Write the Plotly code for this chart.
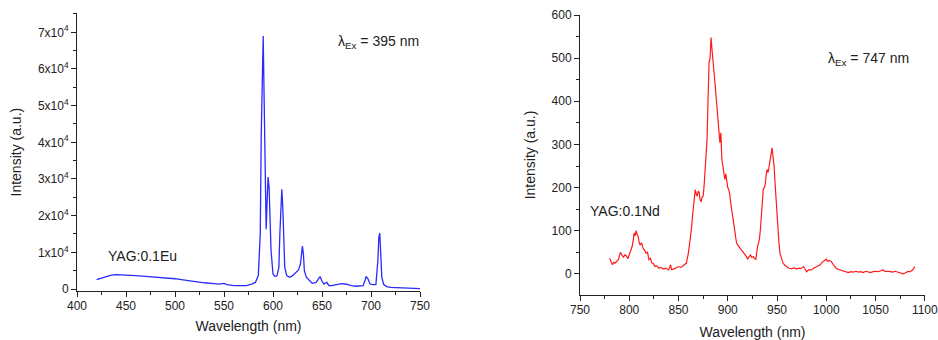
import plotly.graph_objects as go

# ---- Left spectrum: YAG:0.1Eu, excitation 395 nm ----
eu_wavelength = [420, 425, 430, 435, 440, 450, 455, 460, 470, 480, 490, 500, 510, 520, 530, 540, 545,
                 550, 553, 560, 565, 570, 573, 578, 582, 585, 587, 588, 589, 590, 591, 592, 593, 594,
                 595, 596, 597, 598, 600, 602, 604, 606, 607, 608, 609, 610, 611, 612, 614, 617, 620,
                 623, 626, 628, 629, 630, 631, 632, 634, 637, 640, 644, 646, 648, 650, 652, 654, 655,
                 657, 660, 665, 670, 675, 680, 685, 690, 692, 694, 695, 697, 699, 702, 705, 707, 708,
                 709, 710, 711, 713, 716, 720, 730, 740, 744, 750]
eu_intensity = [2550, 2900, 3400, 3800, 3900, 3800, 3900, 3650, 3450, 3300, 3100, 2800, 2450, 2000, 1700,
                1450, 1350, 1550, 1200, 900, 900, 750, 900, 1350, 1800, 3650, 15000, 42000, 60600, 69000,
                51000, 33300, 16300, 24000, 30500, 27800, 19600, 10500, 4100, 3400, 3600, 5900, 15000,
                24000, 27200, 22300, 12300, 5900, 3650, 3200, 3650, 4550, 5200, 6800, 10500, 11700, 9600,
                5000, 3200, 2450, 1550, 1800, 2450, 3400, 2100, 1350, 1700, 1800, 900, 900, 1200, 1450,
                1300, 900, 750, 800, 900, 2450, 3450, 2700, 1350, 1200, 1200, 7700, 14100, 15200, 9600,
                3200, 1200, 650, 450, 350, 300, 350, 100]

# ---- Right spectrum: YAG:0.1Nd, excitation 747 nm ----
nd_wavelength = [780, 781.5, 783, 784.5, 786, 787.5, 789, 791, 792.5, 794, 795.5, 797, 798.5, 800, 801.5,
                 803, 804, 805, 806, 807, 808, 809, 810, 811, 812.5, 814, 815.5, 817, 818.5, 820, 821.5,
                 823, 824.5, 826, 828, 830, 832, 835, 837, 840, 842, 843, 845, 847.5, 850, 852.5, 855,
                 858, 860, 861.5, 863, 864.5, 866, 867, 868, 869, 870, 871, 872, 873, 874, 875, 876, 877,
                 878, 879, 880, 881, 882, 883, 884, 885, 886, 887, 888, 889, 890, 891, 892, 893, 894, 895,
                 896, 897, 898, 899, 900, 901, 902, 903, 904, 905, 906, 907, 908, 909, 910.5, 912, 913.5,
                 915, 916.5, 918, 919, 920, 921.5, 923, 924.5, 926, 927, 928.5, 930, 931, 932, 933, 934,
                 935, 936, 937, 938, 939, 940, 941, 942, 943, 944, 945, 946, 947, 948, 949, 950, 951, 952,
                 953, 954.5, 956, 958, 960, 962, 965, 967.5, 970, 972, 974, 975.5, 977, 979, 980, 982.5,
                 985, 987, 990, 992, 994, 995.5, 997, 998.5, 1000, 1001, 1002, 1003.5, 1005, 1007.5, 1010,
                 1012.5, 1015, 1017.5, 1020, 1022.5, 1025, 1027.5, 1030, 1032.5, 1035, 1037.5, 1040,
                 1042.5, 1045, 1047.5, 1050, 1052.5, 1055, 1057.5, 1060, 1062.5, 1065, 1067.5, 1070,
                 1072.5, 1075, 1078, 1080, 1082.5, 1085, 1087.5, 1090]
nd_intensity = [36, 26, 21, 27, 25, 30, 33, 50, 44, 38, 44, 42, 35, 44, 54, 64, 78, 95, 88, 100, 92, 87,
                74, 67, 72, 60, 55, 48, 50, 33, 36, 25, 24, 17, 19, 13, 15, 11, 13, 9, 21, 10, 11, 14, 17,
                15, 19, 25, 48, 70, 102, 140, 172, 195, 185, 180, 192, 188, 170, 168, 178, 180, 205, 234,
                270, 312, 405, 490, 498, 548, 520, 498, 470, 443, 415, 389, 360, 327, 304, 327, 265, 250,
                234, 219, 232, 207, 200, 195, 185, 164, 150, 141, 120, 102, 85, 71, 66, 60, 56, 52, 48, 44,
                40, 34, 38, 44, 38, 40, 36, 33, 60, 70, 79, 100, 126, 160, 195, 200, 207, 230, 242, 235,
                250, 257, 275, 292, 270, 250, 210, 172, 130, 95, 70, 48, 35, 25, 20, 17, 13, 12, 14, 11, 13,
                12, 14, 17, 9, 5, 10, 9, 13, 17, 20, 21, 26, 29, 33, 34, 30, 29, 31, 29, 20, 13, 10, 8, 6,
                5, 3, 5, 4, 6, 4, 5, 3, 6, 4, 3, 5, 6, 5, 7, 9, 5, 6, 5, 4, 6, 4, 3, 0, 2, 5, 5, 9, 17]

eu_yticks = [0, 10000, 20000, 30000, 40000, 50000, 60000, 70000]
eu_yticktext = ["0"] + [f"{k}x10<sup>4</sup>" for k in range(1, 8)]
eu_xticks = [400, 450, 500, 550, 600, 650, 700, 750]
nd_xticks = [750, 800, 850, 900, 950, 1000, 1050, 1100]
nd_yticks = [0, 100, 200, 300, 400, 500, 600]

FONT = "Liberation Sans, Arial, sans-serif"
AX = "#222222"

fig = go.Figure()
fig.add_trace(go.Scatter(x=eu_wavelength, y=eu_intensity, mode="lines",
                         line=dict(color="#2a2aff", width=1.3), xaxis="x", yaxis="y",
                         showlegend=False))
fig.add_trace(go.Scatter(x=nd_wavelength, y=nd_intensity, mode="lines",
                         line=dict(color="#ff1a1a", width=1.2), xaxis="x2", yaxis="y2",
                         showlegend=False))

common = dict(showgrid=False, zeroline=False, showline=True, linecolor=AX, linewidth=1,
              ticks="outside", ticklen=5, tickwidth=1, tickcolor=AX, automargin=False,
              ticklabeloverflow="allow",
              tickfont=dict(family=FONT, size=12, color="#222222"),
              title_font=dict(family=FONT, size=14, color="#222222"))

fig.update_layout(
    width=938, height=340, margin=dict(l=0, r=0, t=0, b=0),
    template="none", paper_bgcolor="white", plot_bgcolor="white",
    font=dict(family=FONT, color="#222222"),
    xaxis=dict(domain=[77/938, 420/938], range=[400, 750], tickvals=eu_xticks,
               minor=dict(dtick=25, ticks="outside", ticklen=3, tickcolor=AX),
               ticklabelstandoff=-1,
               title=dict(text="Wavelength (nm)", standoff=8), anchor="y", **common),
    yaxis=dict(domain=[1-291/340, 1-13.3/340], range=[-545, 75180], tickvals=eu_yticks,
               ticktext=eu_yticktext,
               minor=dict(dtick=5000, ticks="outside", ticklen=3, tickcolor=AX),
               title=dict(text="Intensity (a.u.)", standoff=12), anchor="x", **common),
    xaxis2=dict(domain=[580/938, 925/938], range=[750, 1100.2], tickvals=nd_xticks,
                minor=dict(dtick=25, ticks="outside", ticklen=3, tickcolor=AX),
                ticklabelstandoff=-1,
                title=dict(text="Wavelength (nm)", standoff=12), anchor="y2", **common),
    yaxis2=dict(domain=[1-295/340, 1-15/340], range=[-49, 600], tickvals=nd_yticks,
                minor=dict(dtick=50, ticks="outside", ticklen=3, tickcolor=AX),
                title=dict(text="Intensity (a.u.)", standoff=12), anchor="x2", **common),
)

ann_font = dict(family=FONT, size=14, color="#222222")
fig.add_annotation(x=336/938, y=1-42/340, xref="paper", yref="paper", xanchor="left",
                   yanchor="middle", showarrow=False, text="λ<sub>Ex</sub> = 395 nm", font=ann_font)
fig.add_annotation(x=826/938, y=1-59/340, xref="paper", yref="paper", xanchor="left",
                   yanchor="middle", showarrow=False, text="λ<sub>Ex</sub> = 747 nm", font=ann_font)
fig.add_annotation(x=106/938, y=1-256/340, xref="paper", yref="paper", xanchor="left",
                   yanchor="middle", showarrow=False, text="YAG:0.1Eu", font=ann_font)
fig.add_annotation(x=588/938, y=1-211/340, xref="paper", yref="paper", xanchor="left",
                   yanchor="middle", showarrow=False, text="YAG:0.1Nd", font=ann_font)

page_css = ("var s=document.createElement('style');"
            "s.textContent='html,body{margin:0;padding:0;overflow:hidden;width:938px;height:340px;}';"
            "document.head.appendChild(s);")
fig.write_html("out.html", config={"displayModeBar": False}, post_script=page_css)
